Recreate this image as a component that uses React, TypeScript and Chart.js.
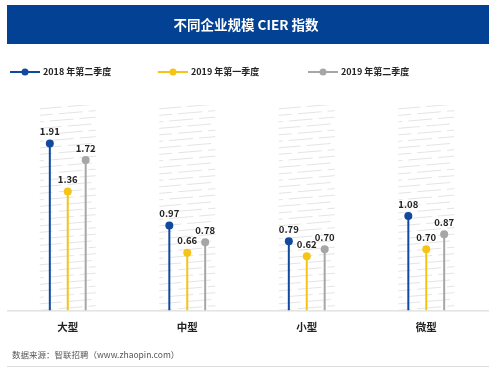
import React, { useEffect, useRef } from "react";
import { Chart, registerables } from "chart.js";

Chart.register(...registerables);

const categories = ["大型", "中型", "小型", "微型"];
const seriesNames = ["2018 年第二季度", "2019 年第一季度", "2019 年第二季度"];
const q2018_2 = [1.91, 0.97, 0.79, 1.08];
const q2019_1 = [1.36, 0.66, 0.62, 0.7];
const q2019_2 = [1.72, 0.78, 0.7, 0.87];
const seriesColors = ["#0f4aa0", "#f5c415", "#a6a6a6"];
const titleText = "不同企业规模 CIER 指数";
const sourceText = "数据来源：智联招聘（www.zhaopin.com）";
const yMax = 2.35;

const FONT = '"Noto Sans CJK SC", "Noto Sans", sans-serif';

const decor = {
  id: "decor",
  beforeDraw(chart: any) {
    const ctx = chart.ctx as CanvasRenderingContext2D;
    ctx.save();
    ctx.fillStyle = "#ffffff";
    ctx.fillRect(0, 0, chart.width, chart.height);
    ctx.fillStyle = "#034194";
    ctx.fillRect(7, 5, 482, 39);
    ctx.fillStyle = "#ffffff";
    ctx.font = `bold 13.5px ${FONT}`;
    ctx.textAlign = "center";
    ctx.textBaseline = "middle";
    ctx.fillText(titleText, 246, 25);
    const lx = [10, 158, 308];
    seriesNames.forEach((n, i) => {
      ctx.strokeStyle = seriesColors[i];
      ctx.lineWidth = 2;
      ctx.beginPath();
      ctx.moveTo(lx[i], 72);
      ctx.lineTo(lx[i] + 30, 72);
      ctx.stroke();
      ctx.fillStyle = seriesColors[i];
      ctx.beginPath();
      ctx.arc(lx[i] + 15, 72, 3.5, 0, Math.PI * 2);
      ctx.fill();
      ctx.fillStyle = "#222";
      ctx.font = `bold 9px ${FONT}`;
      ctx.textAlign = "left";
      ctx.textBaseline = "middle";
      ctx.fillText(n, lx[i] + 33, 72);
    });
    ctx.fillStyle = "#555";
    ctx.font = `8.5px ${FONT}`;
    ctx.textAlign = "left";
    ctx.textBaseline = "middle";
    ctx.fillText(sourceText, 12, 355);
    ctx.strokeStyle = "#dddddd";
    ctx.lineWidth = 1;
    ctx.beginPath();
    ctx.moveTo(7, 366.5);
    ctx.lineTo(489, 366.5);
    ctx.stroke();
    ctx.restore();
  },
  beforeDatasetsDraw(chart: any) {
    const ctx = chart.ctx as CanvasRenderingContext2D;
    const xs = chart.scales.x;
    const { top, bottom } = chart.chartArea;
    ctx.save();
    categories.forEach((_, i) => {
      const cx = xs.getPixelForValue(i);
      const x0 = cx - 28;
      const w = 56;
      ctx.save();
      ctx.beginPath();
      ctx.rect(x0, top, w, bottom - top);
      ctx.clip();
      ctx.strokeStyle = "#e4e4e4";
      ctx.lineWidth = 1;
      ctx.setLineDash([24, 6]);
      let k = 0;
      for (let y = top + 2; y < bottom + 10; y += 6.5) {
        ctx.lineDashOffset = (k % 3) * 9;
        ctx.beginPath();
        ctx.moveTo(x0 - 2, y + 2);
        ctx.lineTo(x0 + w + 2, y - 3);
        ctx.stroke();
        k++;
      }
      ctx.restore();
    });
    ctx.strokeStyle = "#d4d4d4";
    ctx.lineWidth = 1;
    ctx.beginPath();
    ctx.moveTo(7, bottom + 0.5);
    ctx.lineTo(489, bottom + 0.5);
    ctx.stroke();
    ctx.restore();
  },
  afterDatasetsDraw(chart: any) {
    const ctx = chart.ctx as CanvasRenderingContext2D;
    ctx.save();
    chart.data.datasets.forEach((ds: any, di: number) => {
      const meta = chart.getDatasetMeta(di);
      meta.data.forEach((el: any, i: number) => {
        ctx.fillStyle = seriesColors[di];
        ctx.beginPath();
        ctx.arc(el.x, el.y, 4, 0, Math.PI * 2);
        ctx.fill();
        ctx.fillStyle = "#222";
        ctx.font = `bold 9.5px ${FONT}`;
        ctx.textAlign = "center";
        ctx.textBaseline = "middle";
        ctx.fillText(Number(ds.data[i]).toFixed(2), el.x, el.y - 12);
      });
    });
    ctx.restore();
  },
};

export default function App() {
  const ref = useRef<HTMLCanvasElement | null>(null);
  useEffect(() => {
    if (!ref.current) return;
    const chart = new Chart(ref.current, {
      type: "bar",
      data: {
        labels: categories,
        datasets: [q2018_2, q2019_1, q2019_2].map((d, i) => ({
          label: seriesNames[i],
          data: d,
          backgroundColor: seriesColors[i],
          borderWidth: 0,
          maxBarThickness: 2,
          barPercentage: 1,
          categoryPercentage: 0.45,
        })),
      },
      options: {
        responsive: false,
        animation: false,
        layout: { padding: { left: 8, right: 14, top: 105, bottom: 41 } },
        plugins: {
          legend: { display: false },
          tooltip: { enabled: false },
          title: { display: false },
        },
        scales: {
          x: {
            grid: { display: false },
            border: { display: false },
            ticks: {
              color: "#222",
              font: { family: FONT, size: 10.5, weight: "bold" },
              padding: 2,
            },
          },
          y: {
            display: false,
            min: 0,
            max: yMax,
          },
        },
      },
      plugins: [decor],
    });
    return () => chart.destroy();
  }, []);
  return (
    <div style={{ position: "absolute", left: 0, top: 0, width: 500, height: 376, background: "#fff" }}>
      <canvas ref={ref} width={500} height={376} />
    </div>
  );
}
